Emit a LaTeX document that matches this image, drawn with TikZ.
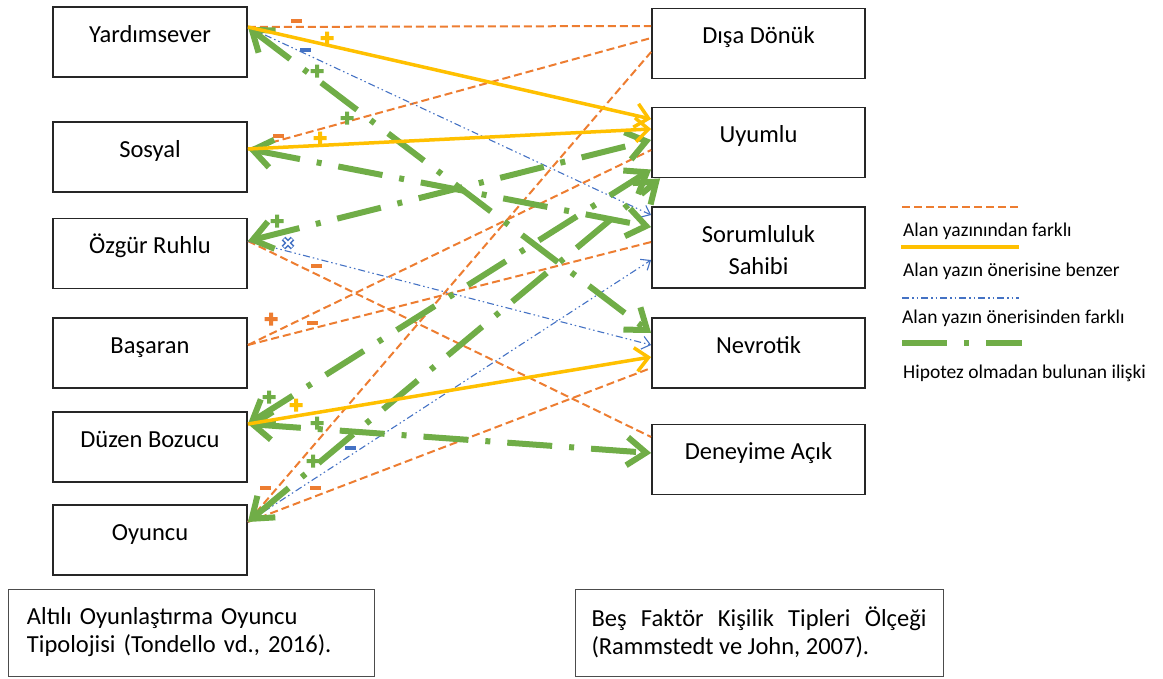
\documentclass[tikz,border=0pt]{standalone}
\usepackage{fontspec}
\setmainfont{Carlito}
\usetikzlibrary{arrows.meta}
\definecolor{orangeC}{HTML}{ED7D31}
\definecolor{yellowC}{HTML}{FFC000}
\definecolor{blueC}{HTML}{4472C4}
\definecolor{greenC}{HTML}{70AD47}
\def\ux{1pt}
\def\uy{-1pt}

\begin{document}
\begin{tikzpicture}[x=\ux,y=\uy, font=\fontsize{24.5}{29}\selectfont]
  \tikzset{
    box/.style={draw=black!85, line width=1.8pt, inner sep=0pt, minimum height=70pt, text height=9pt, text depth=9pt},
    lbox/.style={box, minimum width=194pt},
    rbox/.style={box, minimum width=213pt},
    note/.style={draw=black!70, line width=1pt, minimum height=87pt, inner ysep=0pt, font=\fontsize{24.5}{28}\selectfont},
    oline/.style={orangeC, line width=2pt, dash pattern=on 8pt off 4pt},
    yline/.style={yellowC, line width=3.5pt, -{Straight Barb[length=13pt,width=24pt]}},
    bline/.style={blueC, line width=1.1pt, dash pattern=on 7pt off 3pt on 1.5pt off 3pt on 1.5pt off 3pt, -{Straight Barb[length=8pt,width=13pt]}},
    gline/.style={greenC, line width=6pt, dash pattern=on 45pt off 17pt on 5pt off 17pt, {Straight Barb[length=19pt,width=28pt]}-{Straight Barb[length=19pt,width=28pt]}},
    legend/.style={anchor=base west, inner sep=0pt, font=\fontsize{19.5}{23}\selectfont},
    pics/plussign/.style={code={\fill[#1] (-6.5,-2) rectangle (6.5,2) (-2,-6.5) rectangle (2,6.5);}},
    pics/minussign/.style={code={\fill[#1] (-5.5,-1.8) rectangle (5.5,1.8);}},
    pics/crosssign/.style={code={
        \draw[#1, line width=5pt] (-4.5,-4.5) -- (4.5,4.5) (-4.5,4.5) -- (4.5,-4.5);
        \draw[white, line width=1.8pt] (-4,-4) -- (4,4) (-4,4) -- (4,-4);}},
  }
  \useasboundingbox (0,0) rectangle (1163,678);

  % player types
  \foreach \name/\txt/\y in {yard/Yardımsever/42, sosyal/Sosyal/157, ozgur/Özgür Ruhlu/253.5,
      basaran/Başaran/353, duzen/Düzen Bozucu/447, oyuncu/Oyuncu/540}
    \node[lbox] (\name) at (150,\y) {\txt};

  % personality traits
  \foreach \name/\txt/\y in {disa/Dışa Dönük/43.5, uyumlu/Uyumlu/142.5,
      nevrotik/Nevrotik/353, deneyime/Deneyime Açık/459.5}
    \node[rbox] (\name) at (758.5,\y) {\txt};
  \node[rbox, minimum height=81pt, text height=9pt, text depth=20pt] (soru) at (758.5,247.5)
    {\parbox[t]{200pt}{\centering\baselineskip=32pt Sorumluluk\\Sahibi}};

  \node[note, text width=328pt, inner xsep=19pt, align=left] (tipoloji) at (191,632.5)
    {Altılı Oyunlaştırma Oyuncu\\Tipolojisi (Tondello vd., 2016).};
  \node[note, text width=335pt, inner xsep=16.5pt, align=justify] (olcek) at (759,632.5)
    {Beş Faktör Kişilik Tipleri Ölçeği\linebreak (Rammstedt ve John, 2007).};

  % relations
  \foreach \src/\ys/\dst/\yd in {yard/15/disa/17.5, sosyal/8/disa/5.5, oyuncu/18/disa/-8.5,
      basaran/8/uyumlu/-7.5, basaran/8/soru/5.5, ozgur/12.5/deneyime/22.5, oyuncu/18/nevrotik/-15}
    \draw[oline] ([yshift=\ys pt]\src.east) -- ([yshift=\yd pt]\dst.west);
  \foreach \src/\ys/\dst/\yd in {yard/15/soru/32.5, ozgur/12.5/nevrotik/8, oyuncu/18/soru/-12.5}
    \draw[bline] ([yshift=\ys pt]\src.east) -- ([yshift=\yd pt]\dst.west);
  \foreach \src/\ys/\dst/\yd in {yard/15/nevrotik/20, sosyal/8/soru/20.5, ozgur/12.5/uyumlu/2.5,
      duzen/23/uyumlu/-27, duzen/23/deneyime/6.5}
    \draw[gline] ([yshift=\ys pt]\src.east) -- ([yshift=\yd pt]\dst.west);
  \draw[gline] ([yshift=18pt]oyuncu.east) -- ([xshift=9pt]uyumlu.south west);
  \foreach \src/\ys/\dst/\yd in {yard/15/uyumlu/23.5, sosyal/8/uyumlu/13.5, duzen/23/nevrotik/-4}
    \draw[yline] ([yshift=\ys pt]\src.east) -- ([yshift=\yd pt]\dst.west);

  % signs
  \foreach \x/\y in {327/38, 320/138, 296/405}
    \pic at (\x,\y) {plussign=yellowC};
  \foreach \x/\y in {317/71, 347/118, 277/221, 269/397, 317/423, 313/461}
    \pic at (\x,\y) {plussign=greenC};
  \pic at (271,319) {plussign=orangeC};
  \foreach \x/\y in {296/21, 278/136, 316/266, 312/323, 265/488, 315/488}
    \pic at (\x,\y) {minussign=orangeC};
  \foreach \x/\y in {305/50, 350/448}
    \pic at (\x,\y) {minussign=blueC};
  \pic at (288,243) {crosssign=blueC};

  % legend
  \draw[oline] (902,207) -- (1020,207);
  \node[legend] (leg1) at (903,236) {Alan yazınından farklı};
  \draw[yline, -] (901,247) -- (1019,247);
  \node[legend] (leg2) at (903,276) {Alan yazın önerisine benzer};
  \draw[bline, -] (902,298) -- (1019,298);
  \node[legend] (leg3) at (902,323) {Alan yazın önerisinden farklı};
  \draw[gline, -] (902,343) -- (1022,343);
  \node[legend] (leg4) at (903,378) {Hipotez olmadan bulunan ilişki};
\end{tikzpicture}
\end{document}
